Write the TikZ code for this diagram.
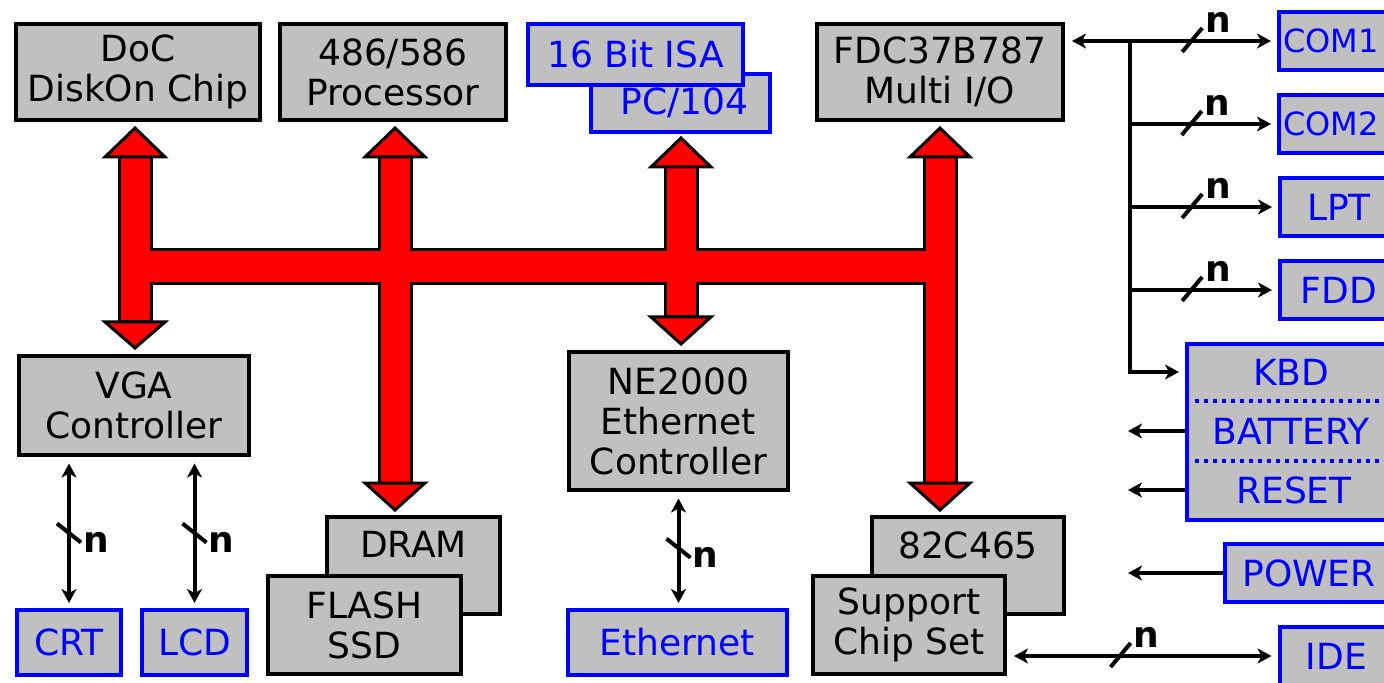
\documentclass[tikz,border=0pt]{standalone}
\usepackage{fontspec}
\setmainfont{DejaVu Sans}
\usetikzlibrary{arrows.meta,positioning}
\definecolor{boxgray}{RGB}{192,192,192}
\definecolor{pinblue}{RGB}{0,0,255}
\definecolor{busred}{RGB}{255,0,0}
\tikzset{
>={Stealth[length=7pt,width=7.5pt,inset=2pt]}, % small barbed heads on the signal lines
every node/.style={font=\fontsize{18}{20}\selectfont, align=center, inner sep=0pt},
chip/.style={draw=black, line width=2pt, fill=boxgray}, % on-board parts
port/.style={draw=pinblue, line width=2pt, fill=boxgray, text=pinblue}, % outside connections
sig/.style={line width=2pt},
buspath/.style={draw=black, line width=1.5pt, fill=busred, line join=miter},
nlab/.style={font=\fontsize{18}{20}\selectfont\bfseries},
comtxt/.style={text=pinblue, anchor=west, font=\fontsize{16}{20}\selectfont},
hslash/.pic={\draw[sig] (-10,11) -- (10,-13); \node[nlab] at (26,-19) {n};},
vslash/.pic={\draw[sig] (-12,-9) -- (12,10); \node[nlab] at (27,10) {n};},
}

\begin{document}
\begin{tikzpicture}[x=0.5pt,y=-0.5pt]
\useasboundingbox (0,0) rectangle (1384,683);
\clip (0,0) rectangle (1384,683);

% top row
\node[chip, minimum width=122pt, minimum height=48pt] (doc) at (138,72) {DoC\\DiskOn Chip};
\node[chip, minimum width=113pt, minimum height=48pt] (cpu) at (393,72) {486/586\\Processor};
\node[port, minimum width=89.5pt, minimum height=29pt] (pc104) at (680.5,103) {\hspace*{4pt}PC/104};
\node[port, minimum width=107.5pt, minimum height=30.5pt] (isa) at (635.5,54.5) {16 Bit ISA};
\node[chip, minimum width=123pt, minimum height=48pt] (fdc) at (940,72) {FDC37B787\\Multi I/O};

% middle and bottom rows
\node[chip, minimum width=115pt, minimum height=49.5pt] (vga) at (134,405.5) {VGA\\Controller};
\node[chip, minimum width=109.5pt, minimum height=69pt] (ne) at (678.5,421) {NE2000\\Ethernet\\Controller};
\node[chip, minimum width=86.5pt, minimum height=48.5pt] (dram) at (413.5,565.5) {};
\node[below=8pt of dram.north] (dramtxt) {DRAM};
\node[chip, minimum width=96.5pt, minimum height=49pt] (flash) at (364.5,625) {FLASH\\SSD};
\node[chip, minimum width=96pt, minimum height=48.5pt] (sc) at (968,565.5) {};
\node[below=8pt of sc.north] (sctxt) {82C465};
\node[chip, minimum width=96pt, minimum height=49pt] (sup) at (909,625) {Support\\Chip Set};
\node[port, minimum width=52pt, minimum height=32.5pt] (crt) at (69,642.5) {CRT};
\node[port, minimum width=52.5pt, minimum height=32.5pt] (lcd) at (194.5,642.5) {LCD};
\node[port, minimum width=109.5pt, minimum height=32.5pt] (eth) at (677.5,642.5) {Ethernet};

% right column
\node[port, minimum width=65pt, minimum height=29pt] (com1) at (1344,41) {};
\node[comtxt] (com1txt) at ([xshift=3pt]com1.west) {COM1};
\node[port, minimum width=65pt, minimum height=29pt] (com2) at (1344,124) {};
\node[comtxt] (com2txt) at ([xshift=3pt]com2.west) {COM2};
\node[port, minimum width=59pt, minimum height=29pt] (lpt) at (1339,207) {LPT};
\node[port, minimum width=59pt, minimum height=29pt] (fdd) at (1339,290) {FDD};
\node[port, minimum width=104pt, minimum height=88pt] (sys) at (1291,432) {};
\node[text=pinblue] (kbd) at (1291,372) {KBD};
\node[text=pinblue] (bat) at (1291,431) {BATTERY};
\node[text=pinblue] (rst) at (1294,490) {RESET};
\draw[pinblue, line width=2pt, dash pattern=on 2pt off 2.5pt] (1195,401) -- (1384,401) (1195,461) -- (1384,461);
\node[port, minimum width=84pt, minimum height=29pt] (pwr) at (1309,573) {POWER};
\node[port, minimum width=57pt, minimum height=29pt] (ide) at (1336.5,656) {IDE};

% the red system bus
\draw[buspath] (119,157) -- (151,157) -- (151,250) -- (379,250) -- (379,157) -- (411,157) -- (411,250)
  -- (665,250) -- (665,167) -- (697,167) -- (697,250) -- (924,250) -- (924,157) -- (956,157)
  -- (956,483) -- (924,483) -- (924,284) -- (697,284) -- (697,317) -- (665,317) -- (665,284)
  -- (411,284) -- (411,483) -- (379,483) -- (379,284) -- (151,284) -- (151,322) -- (119,322) -- cycle;
\foreach \x/\b/\t in {135/157/128, 135/322/348, 395/157/128, 395/483/510,
                      681/167/138, 681/317/344, 940/157/128, 940/483/510}
  \draw[buspath] (\x-30,\b) -- (\x+30,\b) -- (\x,\t) -- cycle;

% signal lines
\coordinate (trunk) at (1130,42);
\coordinate (inl) at (1128,0);
\draw[sig,<->,shorten <=3.5pt,shorten >=3pt] (fdc.east |- com1.west) -- coordinate[pos=.6] (s1) (com1.west);
\draw[sig,->,shorten >=3pt] (trunk |- com2.west) -- coordinate[pos=.42] (s2) (com2.west);
\draw[sig,->,shorten >=3pt] (trunk |- lpt.west) -- coordinate[pos=.42] (s3) (lpt.west);
\draw[sig,->,shorten >=3pt] (trunk |- fdd.west) -- coordinate[pos=.42] (s4) (fdd.west);
\draw[sig,->,shorten >=3pt] (trunk) |- (kbd -| sys.west);
\draw[sig,->] (bat -| sys.west) -- (bat -| inl);
\draw[sig,->] (rst -| sys.west) -- (rst -| inl);
\draw[sig,->] (pwr.west) -- (pwr.west -| inl);
\draw[sig,<->,shorten <=3.5pt,shorten >=3pt] (sup.east |- ide.west) -- coordinate[pos=.42] (s5) (ide.west);
\draw[sig,<->,shorten <=3.25pt,shorten >=2.5pt] (crt.north |- vga.south) -- coordinate[pos=.5] (s6) (crt.north);
\draw[sig,<->,shorten <=3.25pt,shorten >=2.5pt] (lcd.north |- vga.south) -- coordinate[pos=.5] (s7) (lcd.north);
\draw[sig,<->,shorten <=3.25pt,shorten >=2.5pt] (ne.south) -- coordinate[pos=.48] (s8) (ne.south |- eth.north);
\foreach \s in {s1,s2,s3,s4,s5} \pic at (\s) {hslash};
\foreach \s in {s6,s7,s8} \pic at (\s) {vslash};
\end{tikzpicture}
\end{document}
